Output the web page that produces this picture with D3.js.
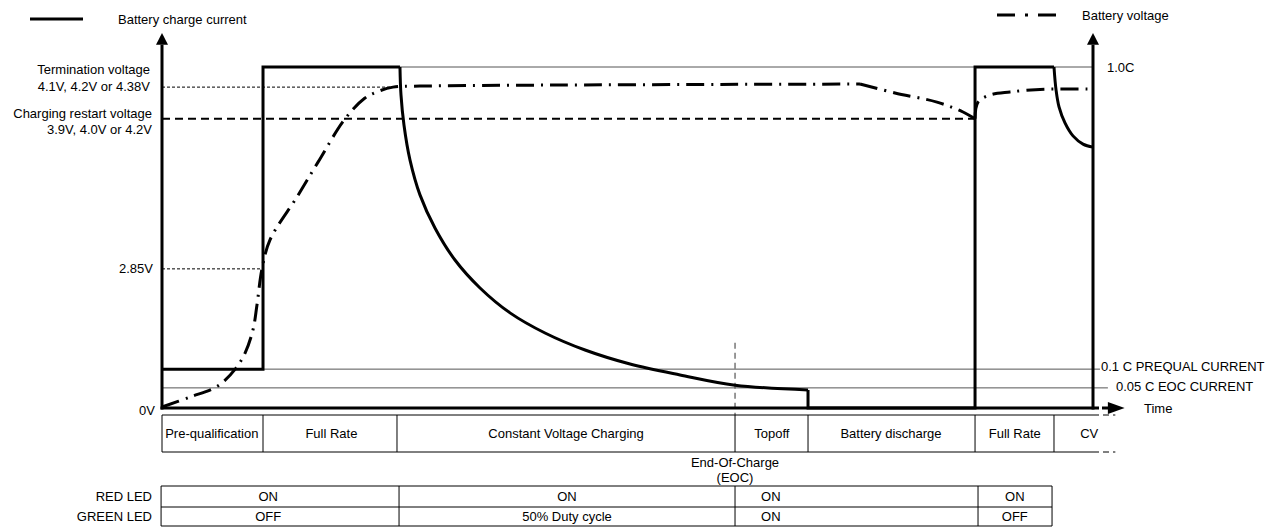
<!DOCTYPE html>
<html>
<head>
<meta charset="utf-8">
<script src="https://cdn.jsdelivr.net/npm/d3@7"></script>
<style>
  body { margin: 0; background: #fff; }
  svg text { font-family: "Liberation Sans", Arial, sans-serif; font-size: 13px; fill: #000; }
</style>
</head>
<body>
<div id="chart"></div>
<script>
'use strict';

// time runs 0..100 across the chart, levels run 0..100 (100 = 1.0C full rate)
var phaseNames = ["Pre-qualification", "Full Rate", "Constant Voltage Charging", "Topoff",
  "Battery discharge", "Full Rate", "CV"];
var phaseEdges = [0, 10.85, 25.24, 61.55, 69.39, 87.33, 95.81, 100];
var phaseLabelAt = [5.35, 18.2, 43.4, 65.5, 78.3, 91.6, 99.6];

var ledNames = ["RED LED", "GREEN LED"];
var ledEdges = [-0.1, 25.46, 61.55, 87.65, 95.6];
var ledLabelAt = [11.4, 43.5, 65.4, 91.6];
var redLed = ["ON", "ON", "ON", "ON"];
var greenLed = ["OFF", "50% Duty cycle", "ON", "OFF"];

var eocTime = 61.55;

// reference levels
var fullRate = 100;
var prequalLevel = 11.4;
var eocLevel = 5.9;
var terminationLevel = 94.1;
var restartLevel = 84.8;
var lowVoltLevel = 40.8;

// battery charge current, straight parts and the two decays
var currentStart = [[0, 11.4], [10.85, 11.4], [10.85, 100], [25.56, 100]];
var currentDecay = [[25.56, 100], [25.67, 91.8], [25.99, 83.0], [26.64, 72.7], [27.71, 62.5],
  [29.32, 52.8], [31.47, 43.4], [34.16, 35.2], [37.38, 27.9], [41.14, 22.0], [45.44, 17.0],
  [50.27, 12.9], [55.64, 9.7], [61.55, 6.7], [69.39, 5.3]];
var currentMiddle = [[69.39, 5.3], [69.39, 0], [87.33, 0], [87.33, 100], [95.81, 100]];
var currentCvDecay = [[95.81, 100], [96.03, 93.3], [96.35, 88.3], [96.99, 83.6], [97.85, 79.8],
  [98.93, 77.4], [100, 76.5]];

// battery voltage
var voltageRise = [[0, 0.3], [3.01, 3.2], [6.02, 6.5], [7.95, 11.7], [8.92, 16.1], [9.77, 22.9],
  [10.2, 30.2], [10.74, 40.8], [11.6, 49.3], [14.5, 61.9], [16.76, 72.1], [19.66, 84.8],
  [21.8, 90.9], [23.09, 92.7], [24.81, 94.1], [27.71, 94.4], [74.97, 95.0]];
var voltageFall = [[74.97, 95.0], [78.73, 92.4], [83.24, 89.7], [86.04, 86.8], [87.33, 84.8]];
var voltageRecharge = [[87.33, 84.8], [87.65, 89.7], [88.94, 91.8], [91.09, 92.7],
  [94.85, 93.5], [100, 93.5]];

function chargeChart() {

  var scope = this;

  scope.width = 1272;
  scope.height = 527;

  scope.xScale = d3.scaleLinear().domain([0, 100]).range([162, 1093]);
  scope.yScale = d3.scaleLinear().domain([0, 100]).range([408, 67]);

  var x = scope.xScale, y = scope.yScale;

  var svg = d3.select("#chart").append("svg")
    .attr("width", scope.width)
    .attr("height", scope.height);

  var straight = d3.line()
    .x(function(d) { return x(d[0]); })
    .y(function(d) { return y(d[1]); });

  var curved = d3.line()
    .x(function(d) { return x(d[0]); })
    .y(function(d) { return y(d[1]); })
    .curve(d3.curveCatmullRom.alpha(0.5));

  function hline(level, t0, t1) {
    return svg.append("line")
      .attr("x1", x(t0)).attr("x2", x(t1))
      .attr("y1", y(level)).attr("y2", y(level));
  }

  function label(txt, px, py, anchor) {
    return svg.append("text")
      .attr("x", px).attr("y", py)
      .attr("dy", "0.35em")
      .attr("text-anchor", anchor || "start")
      .text(txt);
  }

  // thin reference lines
  hline(fullRate, 25.56, 100).attr("stroke", "#555").attr("stroke-width", 1);
  hline(prequalLevel, 0, 100.75).attr("stroke", "#555").attr("stroke-width", 1);
  hline(eocLevel, 0, 101.6).attr("stroke", "#555").attr("stroke-width", 1);
  hline(terminationLevel, 0, 25.1).attr("stroke", "#000").attr("stroke-width", 1)
    .attr("stroke-dasharray", "3,2");
  hline(lowVoltLevel, 0, 10.85).attr("stroke", "#000").attr("stroke-width", 1)
    .attr("stroke-dasharray", "3,2");
  hline(restartLevel, 0, 87.33).attr("stroke", "#000").attr("stroke-width", 2)
    .attr("stroke-dasharray", "8,5");

  // end-of-charge marker
  svg.append("line")
    .attr("x1", x(eocTime)).attr("x2", x(eocTime))
    .attr("y1", y(19.1)).attr("y2", 415)
    .attr("stroke", "#555").attr("stroke-width", 1.2)
    .attr("stroke-dasharray", "6,4");

  // voltage curve
  [voltageRise, voltageFall, voltageRecharge].forEach(function(seg) {
    svg.append("path")
      .attr("d", curved(seg))
      .attr("fill", "none")
      .attr("stroke", "#000")
      .attr("stroke-width", 3)
      .attr("stroke-dasharray", "18,7,2,7");
  });

  // current curve
  [[currentStart, straight], [currentDecay, curved], [currentMiddle, straight],
    [currentCvDecay, curved]].forEach(function(p) {
    svg.append("path")
      .attr("d", p[1](p[0]))
      .attr("fill", "none")
      .attr("stroke", "#000")
      .attr("stroke-width", 3)
      .attr("stroke-linejoin", "miter");
  });

  // axes
  var axisTop = 106.5, arrowTip = 110;
  [0, 100].forEach(function(t) {
    svg.append("line")
      .attr("x1", x(t)).attr("x2", x(t))
      .attr("y1", y(0) + 1.5).attr("y2", y(axisTop))
      .attr("stroke", "#000").attr("stroke-width", 3);
    svg.append("path")
      .attr("d", "M" + x(t) + "," + y(arrowTip) + "L" + (x(t) - 6) + "," + y(axisTop) +
        "L" + (x(t) + 6) + "," + y(axisTop) + "Z")
      .attr("fill", "#000");
  });
  svg.append("line")
    .attr("x1", x(0) - 1.5).attr("x2", x(100))
    .attr("y1", y(0)).attr("y2", y(0))
    .attr("stroke", "#000").attr("stroke-width", 3);
  svg.append("line")
    .attr("x1", x(100)).attr("x2", x(101.7))
    .attr("y1", y(0)).attr("y2", y(0))
    .attr("stroke", "#000").attr("stroke-width", 3)
    .attr("stroke-dasharray", "6,3");
  svg.append("path")
    .attr("d", "M" + x(103.4) + "," + y(0) + "L" + x(101.6) + "," + (y(0) - 6) +
      "L" + x(101.6) + "," + (y(0) + 6) + "Z")
    .attr("fill", "#000");

  // left labels
  label("Termination voltage", 150, 69, "end");
  label("4.1V, 4.2V or 4.38V", 150, 86, "end");
  label("Charging restart voltage", 152, 113, "end");
  label("3.9V, 4.0V or 4.2V", 152, 129, "end");
  label("2.85V", 153, y(lowVoltLevel), "end");
  label("0V", 155, y(0) + 2, "end");

  // right labels
  label("1.0C", 1107, y(fullRate));
  label("0.1 C PREQUAL CURRENT", 1101, y(prequalLevel) - 3);
  label("0.05 C EOC CURRENT", 1116, y(eocLevel) - 1);
  label("Time", 1144, y(0));

  // legends
  svg.append("line").attr("x1", 30).attr("x2", 83).attr("y1", 19).attr("y2", 19)
    .attr("stroke", "#000").attr("stroke-width", 3);
  label("Battery charge current", 118, 19);
  svg.append("line").attr("x1", 997).attr("x2", 1058).attr("y1", 15).attr("y2", 15)
    .attr("stroke", "#000").attr("stroke-width", 3)
    .attr("stroke-dasharray", "18,10,3,10");
  label("Battery voltage", 1082, 15);

  // phase table
  var tTop = 415, tBot = 452;
  [tTop, tBot].forEach(function(py) {
    svg.append("line").attr("x1", x(0)).attr("x2", x(100)).attr("y1", py).attr("y2", py)
      .attr("stroke", "#000").attr("stroke-width", 1);
    svg.append("line").attr("x1", x(100)).attr("x2", x(102.4)).attr("y1", py).attr("y2", py)
      .attr("stroke", "#000").attr("stroke-width", 1).attr("stroke-dasharray", "6,4");
  });
  phaseEdges.slice(0, -1).forEach(function(t) {
    svg.append("line").attr("x1", x(t)).attr("x2", x(t)).attr("y1", tTop).attr("y2", tBot)
      .attr("stroke", "#000").attr("stroke-width", 1);
  });
  phaseNames.forEach(function(n, i) {
    label(n, x(phaseLabelAt[i]), (tTop + tBot) / 2, "middle");
  });

  label("End-Of-Charge", x(eocTime), 462, "middle");
  label("(EOC)", x(eocTime), 477, "middle");

  // LED table
  var rows = [486, 507, 526];
  rows.forEach(function(py) {
    svg.append("line").attr("x1", x(ledEdges[0])).attr("x2", x(ledEdges[ledEdges.length - 1]))
      .attr("y1", py).attr("y2", py)
      .attr("stroke", "#000").attr("stroke-width", 1);
  });
  ledEdges.forEach(function(t) {
    svg.append("line").attr("x1", x(t)).attr("x2", x(t)).attr("y1", rows[0]).attr("y2", rows[2])
      .attr("stroke", "#000").attr("stroke-width", 1);
  });
  [redLed, greenLed].forEach(function(vals, r) {
    label(ledNames[r], 152, (rows[r] + rows[r + 1]) / 2, "end");
    vals.forEach(function(v, i) {
      label(v, x(ledLabelAt[i]), (rows[r] + rows[r + 1]) / 2, "middle");
    });
  });
}

chargeChart.call({});
</script>
</body>
</html>
